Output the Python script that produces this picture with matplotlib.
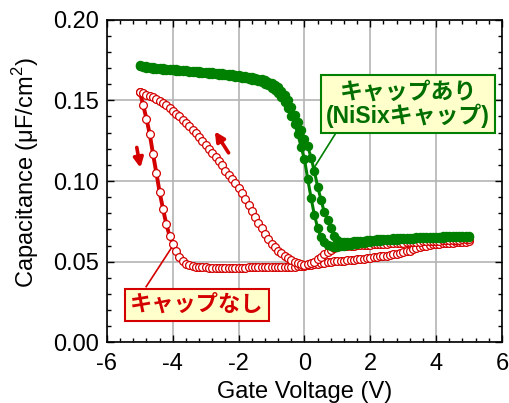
import numpy as np
import matplotlib
matplotlib.use('Agg')
import matplotlib.pyplot as plt
from matplotlib.ticker import MultipleLocator

plt.rcParams['font.family'] = ['Liberation Sans', 'Noto Sans CJK JP']
plt.rcParams['mathtext.fontset'] = 'custom'
plt.rcParams['mathtext.rm'] = 'Liberation Sans'
plt.rcParams['axes.unicode_minus'] = False

# gate voltage, -5 V .. 5 V in 0.1 V steps
volt = np.round(np.arange(-5.0, 5.01, 0.1), 1)

# without cap, sweep -5 -> 5
red_fwd = [
    0.1550, 0.1470, 0.1385, 0.1290, 0.1165, 0.1050, 0.0930, 0.0828, 0.0735, 0.0660,
    0.0610, 0.0565, 0.0528, 0.0505, 0.0487, 0.0477, 0.0471, 0.0467, 0.0465, 0.0464,
    0.0464, 0.0463, 0.0463, 0.0463, 0.0463, 0.0463, 0.0463, 0.0463, 0.0463, 0.0463,
    0.0463, 0.0463, 0.0463, 0.0464, 0.0464, 0.0464, 0.0464, 0.0464, 0.0464, 0.0465,
    0.0465, 0.0465, 0.0465, 0.0466, 0.0466, 0.0467, 0.0468, 0.0469, 0.0471, 0.0473,
    0.0475, 0.0477, 0.0480, 0.0483, 0.0486, 0.0489, 0.0492, 0.0495, 0.0498, 0.0501,
    0.0503, 0.0505, 0.0507, 0.0509, 0.0511, 0.0513, 0.0515, 0.0517, 0.0519, 0.0521,
    0.0523, 0.0526, 0.0529, 0.0532, 0.0535, 0.0538, 0.0541, 0.0545, 0.0549, 0.0553,
    0.0557, 0.0563, 0.0569, 0.0576, 0.0583, 0.0590, 0.0595, 0.0600, 0.0604, 0.0607,
    0.0609, 0.0611, 0.0613, 0.0615, 0.0617, 0.0618, 0.0620, 0.0621, 0.0622, 0.0624, 0.0625]

# without cap, sweep 5 -> -5 (listed by ascending voltage)
red_rev = [
    0.1550, 0.1543, 0.1536, 0.1528, 0.1519, 0.1509, 0.1497, 0.1484, 0.1469, 0.1453,
    0.1436, 0.1418, 0.1400, 0.1381, 0.1361, 0.1340, 0.1318, 0.1296, 0.1273, 0.1249,
    0.1225, 0.1200, 0.1174, 0.1148, 0.1124, 0.1097, 0.1065, 0.1036, 0.1010, 0.0985,
    0.0958, 0.0925, 0.0888, 0.0850, 0.0812, 0.0776, 0.0741, 0.0706, 0.0672, 0.0640,
    0.0612, 0.0589, 0.0569, 0.0551, 0.0536, 0.0523, 0.0511, 0.0500, 0.0490, 0.0483,
    0.0480, 0.0485, 0.0492, 0.0500, 0.0515, 0.0530, 0.0545, 0.0558, 0.0572, 0.0585,
    0.0593, 0.0595, 0.0597, 0.0598, 0.0599, 0.0600, 0.0601, 0.0602, 0.0603, 0.0604,
    0.0606, 0.0607, 0.0608, 0.0609, 0.0610, 0.0612, 0.0613, 0.0614, 0.0615, 0.0616,
    0.0618, 0.0619, 0.0620, 0.0621, 0.0622, 0.0624, 0.0625, 0.0626, 0.0627, 0.0628,
    0.0630, 0.0631, 0.0632, 0.0633, 0.0634, 0.0635, 0.0636, 0.0637, 0.0638, 0.0639, 0.0640]

# with NiSix cap, two sweep directions
green_a = [
    0.1712, 0.1707, 0.1703, 0.1700, 0.1697, 0.1695, 0.1693, 0.1691, 0.1689, 0.1688,
    0.1686, 0.1684, 0.1683, 0.1681, 0.1679, 0.1677, 0.1675, 0.1674, 0.1672, 0.1670,
    0.1668, 0.1666, 0.1664, 0.1662, 0.1660, 0.1657, 0.1655, 0.1652, 0.1649, 0.1646,
    0.1643, 0.1640, 0.1637, 0.1633, 0.1629, 0.1624, 0.1619, 0.1612, 0.1604, 0.1593,
    0.1578, 0.1563, 0.1545, 0.1520, 0.1490, 0.1450, 0.1405, 0.1355, 0.1290, 0.1210,
    0.1135, 0.1010, 0.0895, 0.0790, 0.0710, 0.0655, 0.0623, 0.0605, 0.0596, 0.0592,
    0.0593, 0.0596, 0.0600, 0.0603, 0.0606, 0.0609, 0.0612, 0.0615, 0.0618, 0.0621,
    0.0624, 0.0626, 0.0628, 0.0630, 0.0632, 0.0633, 0.0635, 0.0636, 0.0637, 0.0638,
    0.0640, 0.0641, 0.0642, 0.0643, 0.0644, 0.0644, 0.0645, 0.0646, 0.0647, 0.0647,
    0.0648, 0.0649, 0.0649, 0.0650, 0.0651, 0.0651, 0.0652, 0.0653, 0.0653, 0.0654, 0.0655]

green_b = [
    0.1720, 0.1715, 0.1711, 0.1708, 0.1705, 0.1703, 0.1701, 0.1699, 0.1697, 0.1695,
    0.1693, 0.1692, 0.1690, 0.1689, 0.1687, 0.1685, 0.1684, 0.1682, 0.1680, 0.1678,
    0.1677, 0.1675, 0.1673, 0.1671, 0.1669, 0.1667, 0.1665, 0.1663, 0.1661, 0.1658,
    0.1656, 0.1653, 0.1650, 0.1647, 0.1643, 0.1639, 0.1635, 0.1630, 0.1624, 0.1616,
    0.1606, 0.1594, 0.1580, 0.1560, 0.1535, 0.1500, 0.1458, 0.1412, 0.1367, 0.1315,
    0.1262, 0.1215, 0.1145, 0.1060, 0.0965, 0.0885, 0.0808, 0.0760, 0.0710, 0.0660,
    0.0632, 0.0622, 0.0620, 0.0621, 0.0623, 0.0625, 0.0627, 0.0629, 0.0631, 0.0633,
    0.0635, 0.0637, 0.0638, 0.0640, 0.0641, 0.0642, 0.0643, 0.0644, 0.0645, 0.0646,
    0.0647, 0.0648, 0.0649, 0.0649, 0.0650, 0.0651, 0.0652, 0.0652, 0.0653, 0.0654,
    0.0654, 0.0655, 0.0656, 0.0656, 0.0657, 0.0657, 0.0658, 0.0659, 0.0659, 0.0660, 0.0660]

RED = '#d40000'
GREEN = '#008000'
GREEN_TXT = '#006e00'

fig = plt.figure(figsize=(5.09, 4.03), dpi=100)
ax = fig.add_axes([0.2102, 0.1506, 0.776, 0.8005])

ax.grid(True, color='#b4b4b4', lw=1.2, zorder=0)

ax.plot(volt, red_fwd, '-o', color=RED, lw=2.8, ms=5.6, mfc='white', mec=RED, mew=0.9, zorder=3)
ax.plot(volt, red_rev, '-o', color=RED, lw=2.8, ms=5.6, mfc='white', mec=RED, mew=0.9, zorder=3)
ax.plot(volt, green_a, '-o', color=GREEN, lw=2.2, ms=5.8, mec=GREEN, zorder=4)
ax.plot(volt, green_b, '-o', color=GREEN, lw=2.2, ms=5.8, mec=GREEN, zorder=4)

# sweep direction arrows
ax.annotate('', xy=(-4.97, 0.1065), xytext=(-5.11, 0.1225),
            arrowprops=dict(arrowstyle='-|>', color=RED, lw=2.6, mutation_scale=14), zorder=5)
ax.annotate('', xy=(-2.77, 0.1322), xytext=(-2.26, 0.1160),
            arrowprops=dict(arrowstyle='-|>', color=RED, lw=2.6, mutation_scale=14), zorder=5)

# labels with leader lines
ax.plot([0.93, 0.27], [0.1290, 0.1075], color=GREEN, lw=1.2, zorder=5)
ax.text(3.15, 0.1477, 'キャップあり\n(NiSixキャップ)', ha='center', va='center',
        fontsize=16.5, fontweight='bold', color=GREEN_TXT, linespacing=1.0, zorder=6,
        bbox=dict(boxstyle='square,pad=0.22', fc='#ffffcc', ec=GREEN, lw=1.5))
ax.plot([-4.81, -4.05], [0.0345, 0.0583], color=RED, lw=1.2, zorder=5)
ax.text(-3.27, 0.0231, 'キャップなし', ha='center', va='center',
        fontsize=16, fontweight='bold', color=RED, zorder=6,
        bbox=dict(boxstyle='square,pad=0.25', fc='#ffffcc', ec=RED, lw=1.5))

ax.set_xlim(-6, 6)
ax.set_ylim(0, 0.20)
ax.xaxis.set_major_locator(MultipleLocator(2))
ax.xaxis.set_minor_locator(MultipleLocator(0.4))
ax.yaxis.set_major_locator(MultipleLocator(0.05))
ax.yaxis.set_minor_locator(MultipleLocator(0.01))
ax.yaxis.set_major_formatter(plt.FormatStrFormatter('%.2f'))

ax.tick_params(which='both', direction='in', top=True, right=True, width=1, color='black')
ax.tick_params(which='major', length=5, labelsize=17)
ax.tick_params(axis='x', which='major', pad=8)
ax.tick_params(axis='y', which='major', pad=6)
ax.tick_params(which='minor', length=2.8)
for side in ['top', 'bottom', 'left', 'right']:
    ax.spines[side].set_linewidth(1.2)

ax.set_xlabel('Gate Voltage (V)', fontsize=17, labelpad=4)
ax.set_ylabel('Capacitance (μF/cm$^{2}$)', fontsize=17)
ax.yaxis.set_label_coords(-0.167, 0.525)

fig.savefig('out.png', dpi=100)
